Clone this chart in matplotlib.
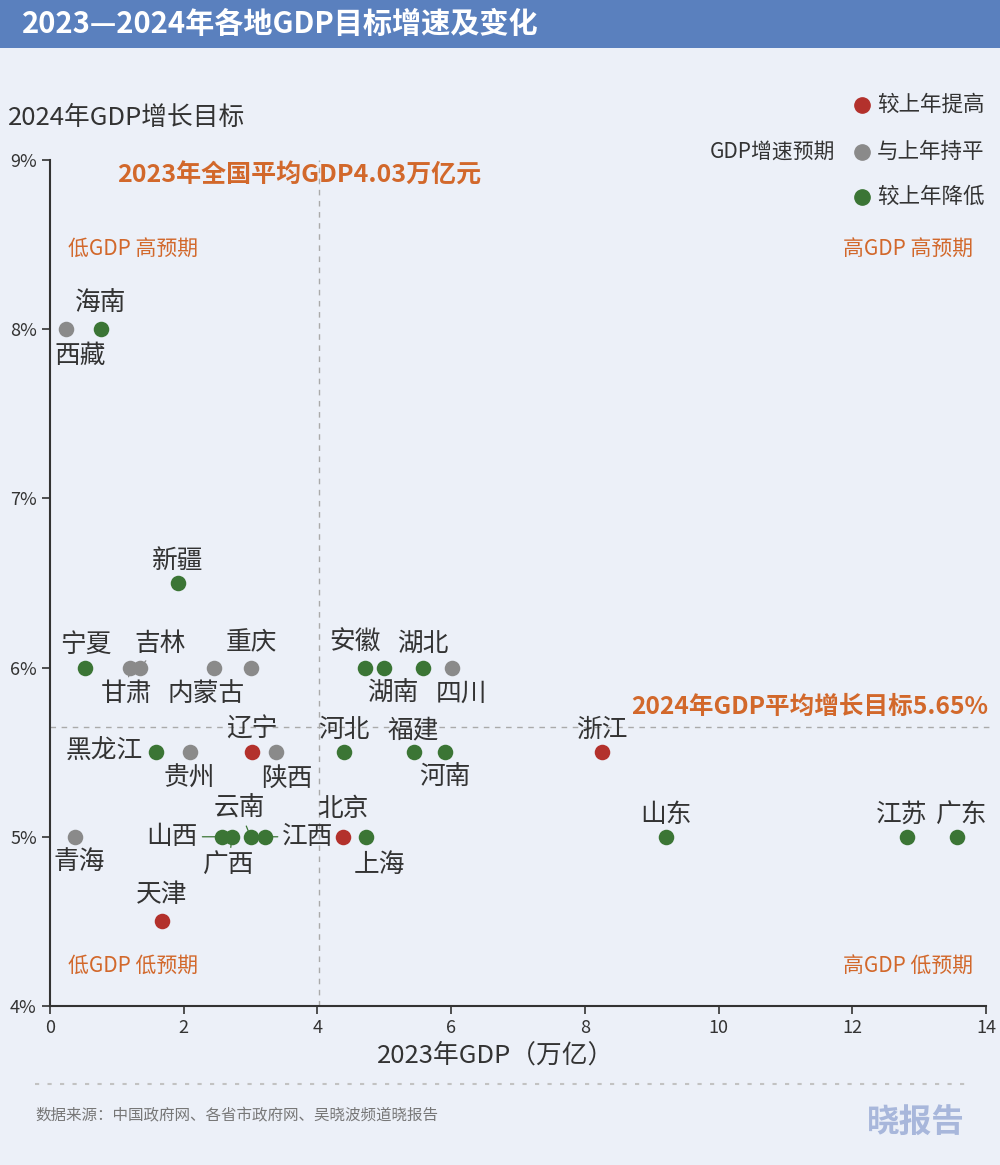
import matplotlib
matplotlib.use("Agg")
import matplotlib.pyplot as plt
from matplotlib.lines import Line2D
from matplotlib.patches import Rectangle

plt.rcParams["font.family"] = ["Noto Sans CJK SC", "DejaVu Sans"]

# ---- data ----
PROVINCES = ["西藏", "海南", "新疆", "宁夏", "甘肃", "吉林", "内蒙古", "重庆",
             "黑龙江", "贵州", "辽宁", "陕西", "青海", "山西", "广西", "云南",
             "江西", "天津", "北京", "上海", "河北", "安徽", "湖南", "湖北",
             "四川", "福建", "河南", "浙江", "山东", "江苏", "广东"]
GDP_2023 = [0.24, 0.76, 1.91, 0.53, 1.19, 1.35, 2.46, 3.01,
            1.59, 2.09, 3.02, 3.38, 0.38, 2.57, 2.72, 3.00,
            3.22, 1.67, 4.38, 4.72, 4.39, 4.71, 5.00, 5.58,
            6.01, 5.44, 5.91, 8.26, 9.21, 12.82, 13.57]
TARGET_2024 = [8.0, 8.0, 6.5, 6.0, 6.0, 6.0, 6.0, 6.0,
               5.5, 5.5, 5.5, 5.5, 5.0, 5.0, 5.0, 5.0,
               5.0, 4.5, 5.0, 5.0, 5.5, 6.0, 6.0, 6.0,
               6.0, 5.5, 5.5, 5.5, 5.0, 5.0, 5.0]
# up / flat / down versus last year's target
CHANGE = ["flat", "down", "down", "down", "flat", "flat", "flat", "flat",
          "down", "flat", "up", "flat", "flat", "down", "down", "down",
          "down", "up", "up", "down", "down", "down", "down", "down",
          "flat", "down", "down", "up", "down", "down", "down"]

AVG_GDP = 4.03
AVG_TARGET = 5.65
X_TICKS = [0, 2, 4, 6, 8, 10, 12, 14]
Y_TICKS = [4, 5, 6, 7, 8, 9]

COLORS = {"up": "#b3312c", "flat": "#8a8a8a", "down": "#3b7535"}
LEGEND_LABELS = {"up": "较上年提高", "flat": "与上年持平", "down": "较上年降低"}

BG = "#ecf0f8"
ORANGE = "#d2682b"
DARK = "#333333"

# label offsets in points: (dx, dy, ha, connector)
LABEL_POS = {
    "西藏": (10, -19, "center", False), "海南": (0, 18, "center", False),
    "新疆": (0, 16, "center", False), "宁夏": (0, 16, "center", False),
    "甘肃": (-2, -19, "center", True), "吉林": (14, 17, "center", True),
    "内蒙古": (-6, -19, "center", False), "重庆": (0, 17.5, "center", False),
    "黑龙江": (-10, 0, "right", False), "贵州": (0, -19, "center", False),
    "辽宁": (0, 16, "center", False), "陕西": (8, -19, "center", False),
    "青海": (3, -18, "center", False), "山西": (-17, 0, "right", True),
    "广西": (-2, -20, "center", True), "云南": (-8, 20, "center", True),
    "江西": (12, 0, "left", True), "天津": (0, 19, "center", False),
    "北京": (0, 20, "center", False), "上海": (10, -20, "center", False),
    "河北": (0, 16, "center", False), "安徽": (-7, 17.5, "center", False),
    "湖南": (6, -19, "center", False), "湖北": (0, 17.5, "center", False),
    "四川": (7, -19, "center", False), "福建": (0, 16, "center", False),
    "河南": (0, -18, "center", False), "浙江": (0, 16, "center", False),
    "山东": (0, 16, "center", False), "江苏": (-4, 16, "center", False),
    "广东": (3, 16, "center", False),
}

fig = plt.figure(figsize=(10, 11.65), dpi=100, facecolor=BG)
ax = fig.add_axes([0.05, 0.1365, 0.936, 0.7262])
ax.set_facecolor(BG)

# title bar
fig.patches.append(Rectangle((0, 0.9588), 1, 0.0412, transform=fig.transFigure,
                             facecolor="#5a80be", edgecolor="none", zorder=0))
fig.text(0.022, 0.979, "2023—2024年各地GDP目标增速及变化", color="white",
         fontsize=21, fontweight="bold", va="center", ha="left")

# reference lines
ax.axvline(AVG_GDP, color="#aaaaaa", ls=(0, (4, 4)), lw=1, zorder=1)
ax.axhline(AVG_TARGET, color="#aaaaaa", ls=(0, (4, 4)), lw=1, zorder=1,
           xmax=1.005, clip_on=False)

for name, gx, gy, ch in zip(PROVINCES, GDP_2023, TARGET_2024, CHANGE):
    ax.scatter(gx, gy, s=125, color=COLORS[ch], zorder=3, linewidths=0)
    dx, dy, ha, conn = LABEL_POS[name]
    kw = {}
    if conn:
        kw["arrowprops"] = dict(arrowstyle="-", color=COLORS[ch], lw=0.9,
                                shrinkA=1, shrinkB=0)
    ax.annotate(name, (gx, gy), xytext=(dx, dy), textcoords="offset points",
                ha=ha, va="center", fontsize=18.5, color=DARK, zorder=2, **kw)

ax.set_xlim(0, 14)
ax.set_ylim(4, 9)
ax.set_xticks(X_TICKS)
ax.set_yticks(Y_TICKS)
ax.set_yticklabels([f"{v}%" for v in Y_TICKS])
ax.tick_params(axis="both", labelsize=13, colors=DARK, length=6, width=1.2)
for side in ["top", "right"]:
    ax.spines[side].set_visible(False)
for side in ["left", "bottom"]:
    ax.spines[side].set_color(DARK)
    ax.spines[side].set_linewidth(1.5)

# axis titles
fig.text(0.008, 0.899, "2024年GDP增长目标", fontsize=18.5, color=DARK,
         ha="left", va="center")
fig.text(0.496, 0.094, "2023年GDP（万亿）", fontsize=18.5, color=DARK,
         ha="center", va="center")

# reference annotations
ax.text(0.266, 0.982, f"2023年全国平均GDP{AVG_GDP}万亿元", transform=ax.transAxes,
        fontsize=18, fontweight="bold", color=ORANGE, ha="center", va="center")
ax.annotate(f"2024年GDP平均增长目标{AVG_TARGET}%", (1.002, AVG_TARGET),
            xycoords=ax.get_yaxis_transform(), xytext=(0, 14),
            textcoords="offset points", fontsize=17.7, fontweight="bold",
            color=ORANGE, ha="right", va="center", annotation_clip=False)

# quadrant labels
for txt, x, y, ha in [("低GDP 高预期", 0.019, 0.895, "left"),
                      ("高GDP 高预期", 0.986, 0.895, "right"),
                      ("低GDP 低预期", 0.019, 0.048, "left"),
                      ("高GDP 低预期", 0.986, 0.048, "right")]:
    ax.text(x, y, txt, transform=ax.transAxes, fontsize=15, color=ORANGE,
            ha=ha, va="center")

# legend
fig.text(0.835, 0.8695, "GDP增速预期", fontsize=15, color=DARK,
         ha="right", va="center")
for key, y in zip(["up", "flat", "down"], [0.9099, 0.8695, 0.8309]):
    fig.add_artist(Line2D([0.862], [y], marker="o", markersize=11,
                          color=COLORS[key], lw=0, transform=fig.transFigure))
    fig.text(0.877, y, LEGEND_LABELS[key], fontsize=15.5, color=DARK,
             ha="left", va="center")

# footer
fig.add_artist(Line2D([0.035, 0.965], [0.0695, 0.0695], color="#c2c2c2",
                      lw=1.5, ls=(0, (2, 4)), transform=fig.transFigure))
fig.text(0.035, 0.0425, "数据来源：中国政府网、各省市政府网、吴晓波频道晓报告",
         fontsize=11.2, color="#777777", ha="left", va="center")
fig.text(0.965, 0.036, "晓报告", fontsize=23.5, fontweight="bold",
         color="#a8b7db", ha="right", va="center")

fig.savefig("out.png", dpi=100, facecolor=BG)
